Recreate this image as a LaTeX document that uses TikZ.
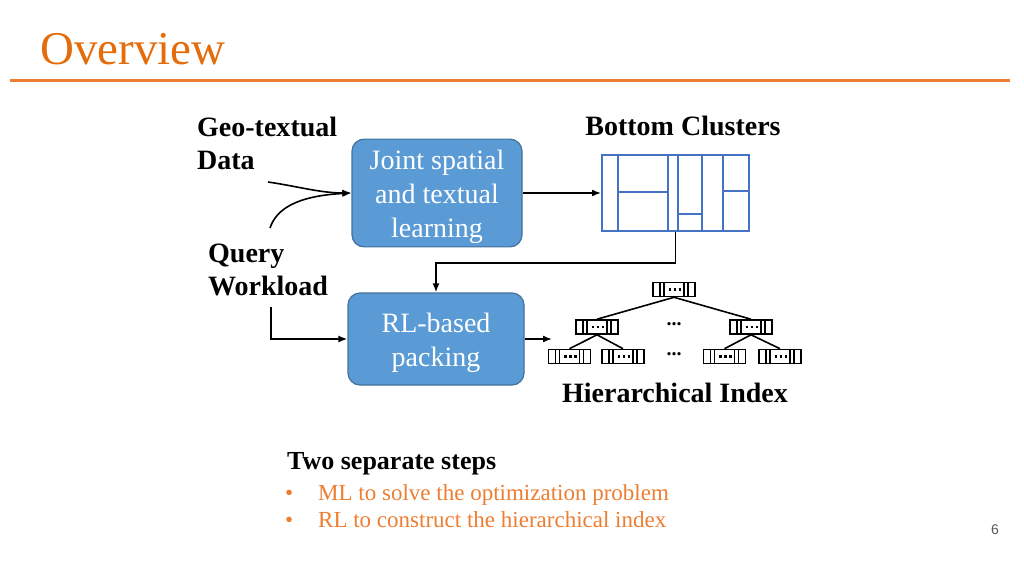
\documentclass[tikz,border=0pt]{standalone}
\usepackage{fontspec}
\setmainfont{Liberation Serif}
\newfontfamily\pagefont{Liberation Sans}
\usetikzlibrary{arrows.meta,positioning}
\definecolor{titleorange}{HTML}{E46C0A}
\definecolor{lineorange}{HTML}{ED7D31}
\definecolor{boxblue}{HTML}{5B9BD5}
\definecolor{boxedge}{HTML}{41719C}
\definecolor{gridblue}{HTML}{4472C4}
\definecolor{muted}{HTML}{595959}
\tikzset{arr/.style={-{Latex[length=9pt,width=7pt]}, line width=1.6pt}, stage/.style={draw=boxedge, fill=boxblue, line width=1.2pt, rounded corners=12pt, text=white, align=center, font=\fontsize{28}{34}\selectfont}, lab/.style={font=\fontsize{28}{33}\selectfont\bfseries, inner sep=0pt, align=left}, cellline/.style={draw=gridblue, line width=2pt}, link/.style={line width=1.6pt}, bul/.style={anchor=base west, inner sep=0pt, text=lineorange, font=\fontsize{23}{27}\selectfont}, idx/.style={draw, line width=1.6pt, minimum width=42pt, minimum height=14pt, inner sep=0pt, path picture={\foreach \dx in {7,11,31,35} \draw[line width=1.8pt] ([xshift=\dx pt]path picture bounding box.north west) -- ([xshift=\dx pt]path picture bounding box.south west); \draw[line width=2.5pt, dash pattern=on 2.5pt off 2.5pt] ([xshift=15.5pt]path picture bounding box.west) -- ([xshift=28pt]path picture bounding box.west);}}}

\begin{document}
\begin{tikzpicture}[x=1pt,y=-1pt]
\useasboundingbox (0,0) rectangle (1024,576);
\node[anchor=base west, inner sep=0pt, text=titleorange, font=\fontsize{47}{50}\selectfont] (title) at (40,64) {Overview};
\draw[lineorange, line width=3pt] (10,80) -- (1010,80);
% inputs and the two stages
\node[lab, anchor=west] (geo) at (197,143) {Geo-textual\\Data};
\node[lab, anchor=west] (query) at (208,270) {Query\\Workload};
\node[stage, minimum width=170pt, minimum height=104pt] (joint) at (437,193) {\rule{0pt}{27pt}Joint spatial\\and textual\\learning};
\node[stage, minimum width=176pt, minimum height=92pt] (pack) at (436,339) {\rule{0pt}{27pt}RL-based\\packing};
\coordinate (geoend) at (268,182); \coordinate (queryend) at (270,228); \coordinate (qstart) at (271,307);
\draw[arr] (geoend) .. controls (296,186) and (320,193) .. (joint.west);
\draw[arr] (queryend) .. controls (276,210) and (295,196) .. (joint.west);
\draw[arr] (qstart) |- (pack.west);
% bottom clusters
\node[lab] (bottomlab) at (683,126) {Bottom Clusters};
\node[cellline, minimum width=147pt, minimum height=76pt, inner sep=0pt] (clusters) at (675.5,193) {};
\draw[cellline] (618,155)--(618,231) (668,155)--(668,231) (678,155)--(678,231) (702,155)--(702,231) (723,155)--(723,231);
\draw[cellline] (618,192)--(668,192) (678,214)--(702,214) (723,191)--(749,191);
\draw[arr] (joint) -- (clusters);
\draw[arr] (clusters.south) -- ++(0,31) -| (pack.north);
% hierarchical index
\node[idx] (root) at (674,289.5) {};
\node[idx] (midl) at (597,327) {}; \node[idx] (midr) at (751,327) {};
\node[idx] (leafa) at (569.5,356.5) {}; \node[idx] (leafb) at (623,356.5) {};
\node[idx] (leafc) at (724.5,356.5) {}; \node[idx] (leafd) at (780,356.5) {};
\node[font=\fontsize{20}{20}\selectfont\bfseries] (dotsa) at (674,324) {...};
\node[font=\fontsize{20}{20}\selectfont\bfseries] (dotsb) at (674,354) {...};
\draw[link] (root.south) -- (midl.north); \draw[link] (root.south) -- (midr.north);
\draw[link] (midl.south) -- (leafa.north); \draw[link] (midl.south) -- (leafb.north);
\draw[link] (midr.south) -- (leafc.north); \draw[link] (midr.south) -- (leafd.north);
\coordinate (treein) at (552,339);
\draw[arr] (pack.east) -- (treein);
\node[lab] (hier) at (675,393) {Hierarchical Index};
% summary
\node[anchor=west, inner sep=0pt, font=\fontsize{26}{30}\selectfont\bfseries] (steps) at (287,464) {Two separate steps};
\node[bul] (bula) at (285,500) {•}; \node[bul] (itema) at (318,500) {ML to solve the optimization problem};
\node[bul] (bulb) at (285,527) {•}; \node[bul] (itemb) at (318,527) {RL to construct the hierarchical index};
\node[font=\pagefont\fontsize{14}{16}\selectfont, text=muted] (pagenum) at (995,530) {6};
\end{tikzpicture}
\end{document}
